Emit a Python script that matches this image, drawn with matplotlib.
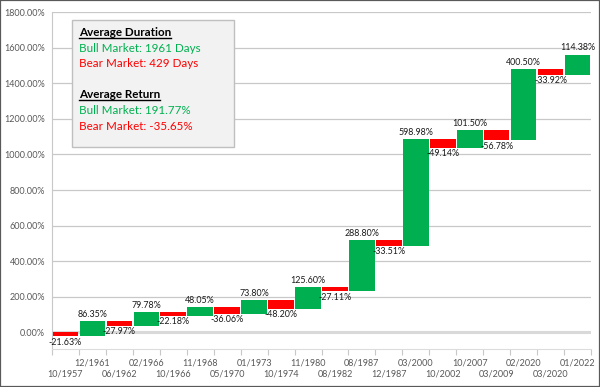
import matplotlib
matplotlib.use('Agg')
import matplotlib.pyplot as plt
from matplotlib.patches import Rectangle
from matplotlib.lines import Line2D

dates = ['10/1957', '12/1961', '06/1962', '02/1966', '10/1966', '11/1968', '05/1970',
         '01/1973', '10/1974', '11/1980', '08/1982', '08/1987', '12/1987', '03/2000',
         '10/2002', '10/2007', '03/2009', '02/2020', '03/2020', '01/2022']
changes = [-21.63, 86.35, -27.97, 79.78, -22.18, 48.05, -36.06, 73.80, -48.20, 125.60,
           -27.11, 288.80, -33.51, 598.98, -49.14, 101.50, -56.78, 400.50, -33.92, 114.38]

box_lines = [('Average Duration', 'title'),
             ('Bull Market: 1961 Days', 'bull'),
             ('Bear Market: 429 Days', 'bear'),
             ('Average Return', 'title'),
             ('Bull Market: 191.77%', 'bull'),
             ('Bear Market: -35.65%', 'bear')]

GREEN = '#00B050'
RED = '#FF0000'

plt.rcParams['font.family'] = ['Lato', 'DejaVu Sans']

W, H = 600, 387
fig = plt.figure(figsize=(6, 3.87), dpi=100)
ax = fig.add_axes([52 / W, 1 - 349 / H, 539 / W, 337 / H])

# waterfall bars
bottoms, heights, colors = [], [], []
level = 0.0
for c in changes:
    new = level + c
    bottoms.append(min(level, new))
    heights.append(abs(c))
    colors.append(GREEN if c > 0 else RED)
    level = new

x = list(range(len(changes)))
ax.bar(x, heights, bottom=bottoms, width=0.95, color=colors, zorder=3)

for i, c in enumerate(changes):
    if c > 0:
        ax.annotate(f'{c:.2f}%', (i, bottoms[i] + heights[i]), xytext=(0, 1.5),
                    textcoords='offset points', ha='center', va='bottom',
                    fontsize=6.4, color='#1a1a1a', zorder=4)
    else:
        ax.annotate(f'{c:.2f}%', (i, bottoms[i]), xytext=(0, -1),
                    textcoords='offset points', ha='center', va='top',
                    fontsize=6.4, color='#1a1a1a', zorder=4)

ax.set_xlim(-0.5, len(changes) - 0.5)
ax.set_ylim(-92.7, 1800)

yt = list(range(0, 1801, 200))
ax.set_yticks(yt)
ax.set_yticklabels([f'{v:.2f}%' for v in yt])
ax.yaxis.grid(True, color='#c8c8c8', lw=0.9)
ax.axhline(0, color='#d9d9d9', lw=2.2, zorder=2)
ax.set_axisbelow(True)

# category labels in two staggered rows, tick marks at category edges
ax.set_xticks([i - 0.5 for i in range(len(changes) + 1)])
ax.set_xticklabels([])
ax.tick_params(axis='x', length=4, color='#c8c8c8', width=0.8)
for i, d in enumerate(dates):
    yrow = -0.074 if i % 2 == 0 else -0.0415
    ax.text(i, yrow, d, transform=ax.get_xaxis_transform(), ha='center', va='center',
            fontsize=6.5, color='#595959')
ax.tick_params(axis='y', length=0, pad=5, labelsize=6.5, labelcolor='#595959')

for s in ['top', 'right']:
    ax.spines[s].set_visible(False)
ax.spines['left'].set_color('#c8c8c8')
ax.spines['bottom'].set_color('#dcdcdc')

# summary box
box = Rectangle((72 / W, 1 - 147 / H), 162 / W, 127 / H, transform=fig.transFigure,
                facecolor='#f2f2f2', edgecolor='#bfbfbf', lw=1, zorder=5)
fig.add_artist(box)

baselines = [35.7, 51.6, 67.4, 98.4, 114.2, 130]
titles = []
for (txt, kind), yb in zip(box_lines, baselines):
    col = {'title': 'black', 'bull': GREEN, 'bear': RED}[kind]
    t = fig.text(79 / W, 1 - yb / H, txt, color=col, fontsize=8.4, va='baseline',
                 weight='bold' if kind == 'title' else 'normal', zorder=6)
    if kind == 'title':
        titles.append((t, yb))

fig.canvas.draw()
r = fig.canvas.get_renderer()
for t, yb in titles:
    bb = t.get_window_extent(r)
    yl = 1 - (yb + 2) / H
    fig.add_artist(Line2D([bb.x0 / W, bb.x1 / W], [yl, yl], transform=fig.transFigure,
                          color='black', lw=1, zorder=6))

# outer frame
fig.add_artist(Rectangle((0, 0), 1, 1, transform=fig.transFigure, fill=False,
                         edgecolor='#595959', lw=1.6, zorder=10))

fig.savefig('out.png', dpi=100)
